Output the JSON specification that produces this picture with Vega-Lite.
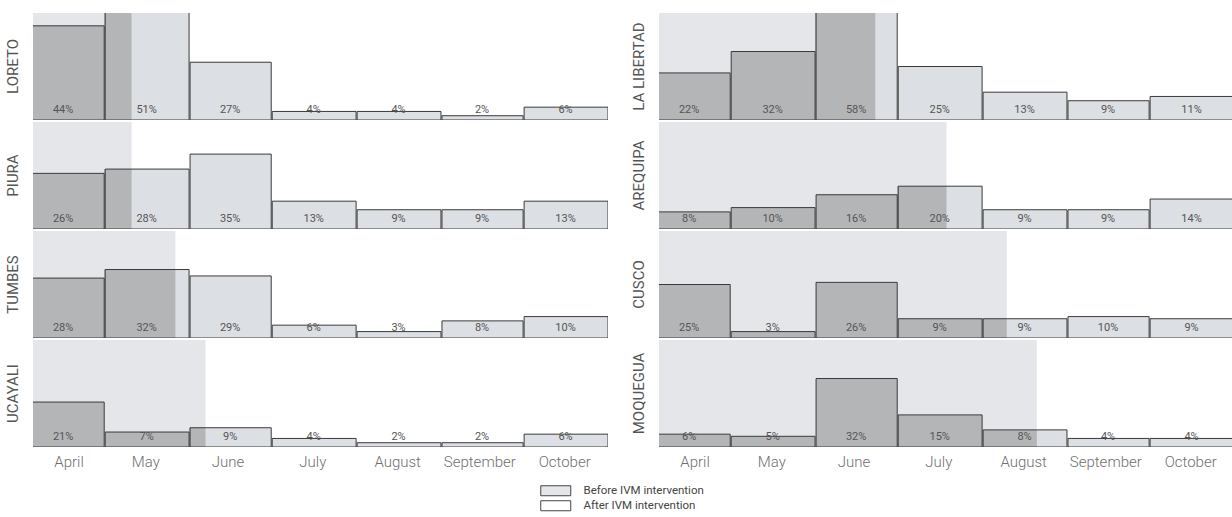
{
  "$schema": "https://vega.github.io/schema/vega-lite/v6.json",
  "padding": {"left": 5, "top": 13, "right": 0, "bottom": 0},
  "background": "white",
  "config": {"view": {"stroke": null}, "font": "Roboto"},
  "datasets": {
    "rates": [
      {"region": "LORETO", "date": "2017-04-01", "rate": 0.44, "cut": "2017-05-11"},
      {"region": "LORETO", "date": "2017-05-01", "rate": 0.51, "cut": "2017-05-11"},
      {"region": "LORETO", "date": "2017-06-01", "rate": 0.27, "cut": "2017-05-11"},
      {"region": "LORETO", "date": "2017-07-01", "rate": 0.04, "cut": "2017-05-11"},
      {"region": "LORETO", "date": "2017-08-01", "rate": 0.04, "cut": "2017-05-11"},
      {"region": "LORETO", "date": "2017-09-01", "rate": 0.02, "cut": "2017-05-11"},
      {"region": "LORETO", "date": "2017-10-01", "rate": 0.06, "cut": "2017-05-11"},
      {"region": "PIURA", "date": "2017-04-01", "rate": 0.26, "cut": "2017-05-11"},
      {"region": "PIURA", "date": "2017-05-01", "rate": 0.28, "cut": "2017-05-11"},
      {"region": "PIURA", "date": "2017-06-01", "rate": 0.35, "cut": "2017-05-11"},
      {"region": "PIURA", "date": "2017-07-01", "rate": 0.13, "cut": "2017-05-11"},
      {"region": "PIURA", "date": "2017-08-01", "rate": 0.09, "cut": "2017-05-11"},
      {"region": "PIURA", "date": "2017-09-01", "rate": 0.09, "cut": "2017-05-11"},
      {"region": "PIURA", "date": "2017-10-01", "rate": 0.13, "cut": "2017-05-11"},
      {"region": "TUMBES", "date": "2017-04-01", "rate": 0.28, "cut": "2017-05-27"},
      {"region": "TUMBES", "date": "2017-05-01", "rate": 0.32, "cut": "2017-05-27"},
      {"region": "TUMBES", "date": "2017-06-01", "rate": 0.29, "cut": "2017-05-27"},
      {"region": "TUMBES", "date": "2017-07-01", "rate": 0.06, "cut": "2017-05-27"},
      {"region": "TUMBES", "date": "2017-08-01", "rate": 0.03, "cut": "2017-05-27"},
      {"region": "TUMBES", "date": "2017-09-01", "rate": 0.08, "cut": "2017-05-27"},
      {"region": "TUMBES", "date": "2017-10-01", "rate": 0.10, "cut": "2017-05-27"},
      {"region": "UCAYALI", "date": "2017-04-01", "rate": 0.21, "cut": "2017-06-07"},
      {"region": "UCAYALI", "date": "2017-05-01", "rate": 0.07, "cut": "2017-06-07"},
      {"region": "UCAYALI", "date": "2017-06-01", "rate": 0.09, "cut": "2017-06-07"},
      {"region": "UCAYALI", "date": "2017-07-01", "rate": 0.04, "cut": "2017-06-07"},
      {"region": "UCAYALI", "date": "2017-08-01", "rate": 0.02, "cut": "2017-06-07"},
      {"region": "UCAYALI", "date": "2017-09-01", "rate": 0.02, "cut": "2017-06-07"},
      {"region": "UCAYALI", "date": "2017-10-01", "rate": 0.06, "cut": "2017-06-07"},
      {"region": "LA LIBERTAD", "date": "2017-04-01", "rate": 0.22, "cut": "2017-06-23"},
      {"region": "LA LIBERTAD", "date": "2017-05-01", "rate": 0.32, "cut": "2017-06-23"},
      {"region": "LA LIBERTAD", "date": "2017-06-01", "rate": 0.58, "cut": "2017-06-23"},
      {"region": "LA LIBERTAD", "date": "2017-07-01", "rate": 0.25, "cut": "2017-06-23"},
      {"region": "LA LIBERTAD", "date": "2017-08-01", "rate": 0.13, "cut": "2017-06-23"},
      {"region": "LA LIBERTAD", "date": "2017-09-01", "rate": 0.09, "cut": "2017-06-23"},
      {"region": "LA LIBERTAD", "date": "2017-10-01", "rate": 0.11, "cut": "2017-06-23"},
      {"region": "AREQUIPA", "date": "2017-04-01", "rate": 0.08, "cut": "2017-07-19"},
      {"region": "AREQUIPA", "date": "2017-05-01", "rate": 0.10, "cut": "2017-07-19"},
      {"region": "AREQUIPA", "date": "2017-06-01", "rate": 0.16, "cut": "2017-07-19"},
      {"region": "AREQUIPA", "date": "2017-07-01", "rate": 0.20, "cut": "2017-07-19"},
      {"region": "AREQUIPA", "date": "2017-08-01", "rate": 0.09, "cut": "2017-07-19"},
      {"region": "AREQUIPA", "date": "2017-09-01", "rate": 0.09, "cut": "2017-07-19"},
      {"region": "AREQUIPA", "date": "2017-10-01", "rate": 0.14, "cut": "2017-07-19"},
      {"region": "CUSCO", "date": "2017-04-01", "rate": 0.25, "cut": "2017-08-10"},
      {"region": "CUSCO", "date": "2017-05-01", "rate": 0.03, "cut": "2017-08-10"},
      {"region": "CUSCO", "date": "2017-06-01", "rate": 0.26, "cut": "2017-08-10"},
      {"region": "CUSCO", "date": "2017-07-01", "rate": 0.09, "cut": "2017-08-10"},
      {"region": "CUSCO", "date": "2017-08-01", "rate": 0.09, "cut": "2017-08-10"},
      {"region": "CUSCO", "date": "2017-09-01", "rate": 0.10, "cut": "2017-08-10"},
      {"region": "CUSCO", "date": "2017-10-01", "rate": 0.09, "cut": "2017-08-10"},
      {"region": "MOQUEGUA", "date": "2017-04-01", "rate": 0.06, "cut": "2017-08-21"},
      {"region": "MOQUEGUA", "date": "2017-05-01", "rate": 0.05, "cut": "2017-08-21"},
      {"region": "MOQUEGUA", "date": "2017-06-01", "rate": 0.32, "cut": "2017-08-21"},
      {"region": "MOQUEGUA", "date": "2017-07-01", "rate": 0.15, "cut": "2017-08-21"},
      {"region": "MOQUEGUA", "date": "2017-08-01", "rate": 0.08, "cut": "2017-08-21"},
      {"region": "MOQUEGUA", "date": "2017-09-01", "rate": 0.04, "cut": "2017-08-21"},
      {"region": "MOQUEGUA", "date": "2017-10-01", "rate": 0.04, "cut": "2017-08-21"}
    ]
  },
  "spacing": 23,
  "resolve": {"scale": {"fill": "shared"}},
  "hconcat": [
    {
      "data": {"name": "rates"},
      "transform": [
        {"filter": {"field": "region", "oneOf": ["LORETO", "PIURA", "TUMBES", "UCAYALI"]}}
      ],
      "facet": {"row": {"field": "region", "type": "nominal", "title": null, "sort": ["LORETO", "PIURA", "TUMBES", "UCAYALI"],
        "header": {"labelAngle": -90, "labelOrient": "left", "labelPadding": 5, "labelFontSize": 15, "labelColor": "#555555", "labelFont": "Roboto"}}},
      "spacing": {"row": 2},
      "spec": {
        "width": 575, "height": 107,
        "layer": [
          {
            "transform": [{"filter": "utcmonth(toDate(datum.date)) == 3"}],
            "mark": {"type": "rect", "clip": true},
            "encoding": {
              "x": {"field": "date", "type": "temporal", "title": null,
                "scale": {"type": "utc", "padding": 0, "domain": [{"year": 2017, "month": 4, "date": 5, "utc": true}, {"year": 2017, "month": 11, "date": 1, "utc": true}]},
                "axis": {"title": null, "values": [{"year": 2017, "month": 4, "date": 18, "utc": true}, {"year": 2017, "month": 5, "date": 16, "utc": true}, {"year": 2017, "month": 6, "date": 15, "utc": true}, {"year": 2017, "month": 7, "date": 16, "utc": true}, {"year": 2017, "month": 8, "date": 16, "utc": true}, {"year": 2017, "month": 9, "date": 15, "utc": true}, {"year": 2017, "month": 10, "date": 16, "utc": true}],
                  "format": "%B", "ticks": false, "domain": false, "grid": false, "labelPadding": 7, "labelFontSize": 15, "labelColor": "#6f6f6f", "labelFontWeight": 300, "labelFont": "Roboto", "labelOverlap": false}},
              "x2": {"field": "cut"},
              "fill": {"datum": "Before IVM intervention", "type": "nominal",
                "scale": {"domain": ["Before IVM intervention", "After IVM intervention"], "range": ["#e4e6ea", "#ffffff"]},
                "legend": {"title": null, "orient": "none", "legendX": 517, "legendY": 472, "direction": "vertical",
                  "symbolType": "M-3,-1H3V1H-3Z", "symbolSize": 100, "symbolStrokeColor": "#444444", "symbolStrokeWidth": 1, "symbolOpacity": 1,
                  "labelOffset": 22, "labelFontSize": 11.5, "labelColor": "#444444", "labelFont": "Roboto", "rowPadding": 0}}
            }
          },
          {
            "mark": {"type": "bar", "clip": true, "fill": "#dcdfe4"},
            "encoding": {
              "x": {"field": "date", "timeUnit": "utcyearmonth", "type": "temporal", "title": null},
              "y": {"field": "rate", "type": "quantitative", "stack": null, "scale": {"domainMin": 0, "domainMax": 0.5, "nice": false, "zero": true, "padding": 0}, "axis": null}
            }
          },
          {
            "transform": [{"filter": "time(utcOffset('month', toDate(datum.date), 1)) <= time(toDate(datum.cut))"}],
            "mark": {"type": "bar", "clip": true, "fill": "#b3b5b7"},
            "encoding": {
              "x": {"field": "date", "timeUnit": "utcyearmonth", "type": "temporal", "title": null},
              "y": {"field": "rate", "type": "quantitative", "stack": null, "axis": null}
            }
          },
          {
            "transform": [{"filter": "time(toDate(datum.date)) < time(toDate(datum.cut)) && time(utcOffset('month', toDate(datum.date), 1)) > time(toDate(datum.cut))"}],
            "mark": {"type": "bar", "orient": "vertical", "clip": true, "fill": "#b3b5b7"},
            "encoding": {
              "x": {"field": "date", "type": "temporal", "title": null},
              "x2": {"field": "cut"},
              "y": {"field": "rate", "type": "quantitative", "stack": null, "axis": null}
            }
          },
          {
            "mark": {"type": "bar", "clip": true, "filled": false, "stroke": "#3a3a3a", "strokeWidth": 1},
            "encoding": {
              "x": {"field": "date", "timeUnit": "utcyearmonth", "type": "temporal", "title": null},
              "y": {"field": "rate", "type": "quantitative", "stack": null, "axis": null}
            }
          },
          {
            "mark": {"type": "text", "fontSize": 11, "color": "#555555", "baseline": "middle", "dy": -10, "font": "Roboto"},
            "encoding": {
              "x": {"field": "date", "timeUnit": "utcyearmonth", "type": "temporal", "bandPosition": 0.5, "title": null},
              "y": {"datum": 0, "type": "quantitative", "axis": null},
              "text": {"field": "rate", "type": "quantitative", "format": ".0%"}
            }
          }
        ]
      }
    },
    {
      "data": {"name": "rates"},
      "transform": [
        {"filter": {"field": "region", "oneOf": ["LA LIBERTAD", "AREQUIPA", "CUSCO", "MOQUEGUA"]}}
      ],
      "facet": {"row": {"field": "region", "type": "nominal", "title": null, "sort": ["LA LIBERTAD", "AREQUIPA", "CUSCO", "MOQUEGUA"],
        "header": {"labelAngle": -90, "labelOrient": "left", "labelPadding": 5, "labelFontSize": 15, "labelColor": "#555555", "labelFont": "Roboto"}}},
      "spacing": {"row": 2},
      "spec": {
        "width": 575, "height": 107,
        "layer": [
          {
            "transform": [{"filter": "utcmonth(toDate(datum.date)) == 3"}],
            "mark": {"type": "rect", "clip": true},
            "encoding": {
              "x": {"field": "date", "type": "temporal", "title": null,
                "scale": {"type": "utc", "padding": 0, "domain": [{"year": 2017, "month": 4, "date": 5, "utc": true}, {"year": 2017, "month": 11, "date": 1, "utc": true}]},
                "axis": {"title": null, "values": [{"year": 2017, "month": 4, "date": 18, "utc": true}, {"year": 2017, "month": 5, "date": 16, "utc": true}, {"year": 2017, "month": 6, "date": 15, "utc": true}, {"year": 2017, "month": 7, "date": 16, "utc": true}, {"year": 2017, "month": 8, "date": 16, "utc": true}, {"year": 2017, "month": 9, "date": 15, "utc": true}, {"year": 2017, "month": 10, "date": 16, "utc": true}],
                  "format": "%B", "ticks": false, "domain": false, "grid": false, "labelPadding": 7, "labelFontSize": 15, "labelColor": "#6f6f6f", "labelFontWeight": 300, "labelFont": "Roboto", "labelOverlap": false}},
              "x2": {"field": "cut"},
              "fill": {"datum": "Before IVM intervention", "type": "nominal",
                "scale": {"domain": ["Before IVM intervention", "After IVM intervention"], "range": ["#e4e6ea", "#ffffff"]}}
            }
          },
          {
            "mark": {"type": "bar", "clip": true, "fill": "#dcdfe4"},
            "encoding": {
              "x": {"field": "date", "timeUnit": "utcyearmonth", "type": "temporal", "title": null},
              "y": {"field": "rate", "type": "quantitative", "stack": null, "scale": {"domainMin": 0, "domainMax": 0.5, "nice": false, "zero": true, "padding": 0}, "axis": null}
            }
          },
          {
            "transform": [{"filter": "time(utcOffset('month', toDate(datum.date), 1)) <= time(toDate(datum.cut))"}],
            "mark": {"type": "bar", "clip": true, "fill": "#b3b5b7"},
            "encoding": {
              "x": {"field": "date", "timeUnit": "utcyearmonth", "type": "temporal", "title": null},
              "y": {"field": "rate", "type": "quantitative", "stack": null, "axis": null}
            }
          },
          {
            "transform": [{"filter": "time(toDate(datum.date)) < time(toDate(datum.cut)) && time(utcOffset('month', toDate(datum.date), 1)) > time(toDate(datum.cut))"}],
            "mark": {"type": "bar", "orient": "vertical", "clip": true, "fill": "#b3b5b7"},
            "encoding": {
              "x": {"field": "date", "type": "temporal", "title": null},
              "x2": {"field": "cut"},
              "y": {"field": "rate", "type": "quantitative", "stack": null, "axis": null}
            }
          },
          {
            "mark": {"type": "bar", "clip": true, "filled": false, "stroke": "#3a3a3a", "strokeWidth": 1},
            "encoding": {
              "x": {"field": "date", "timeUnit": "utcyearmonth", "type": "temporal", "title": null},
              "y": {"field": "rate", "type": "quantitative", "stack": null, "axis": null}
            }
          },
          {
            "mark": {"type": "text", "fontSize": 11, "color": "#555555", "baseline": "middle", "dy": -10, "font": "Roboto"},
            "encoding": {
              "x": {"field": "date", "timeUnit": "utcyearmonth", "type": "temporal", "bandPosition": 0.5, "title": null},
              "y": {"datum": 0, "type": "quantitative", "axis": null},
              "text": {"field": "rate", "type": "quantitative", "format": ".0%"}
            }
          }
        ]
      }
    }
  ]
}
